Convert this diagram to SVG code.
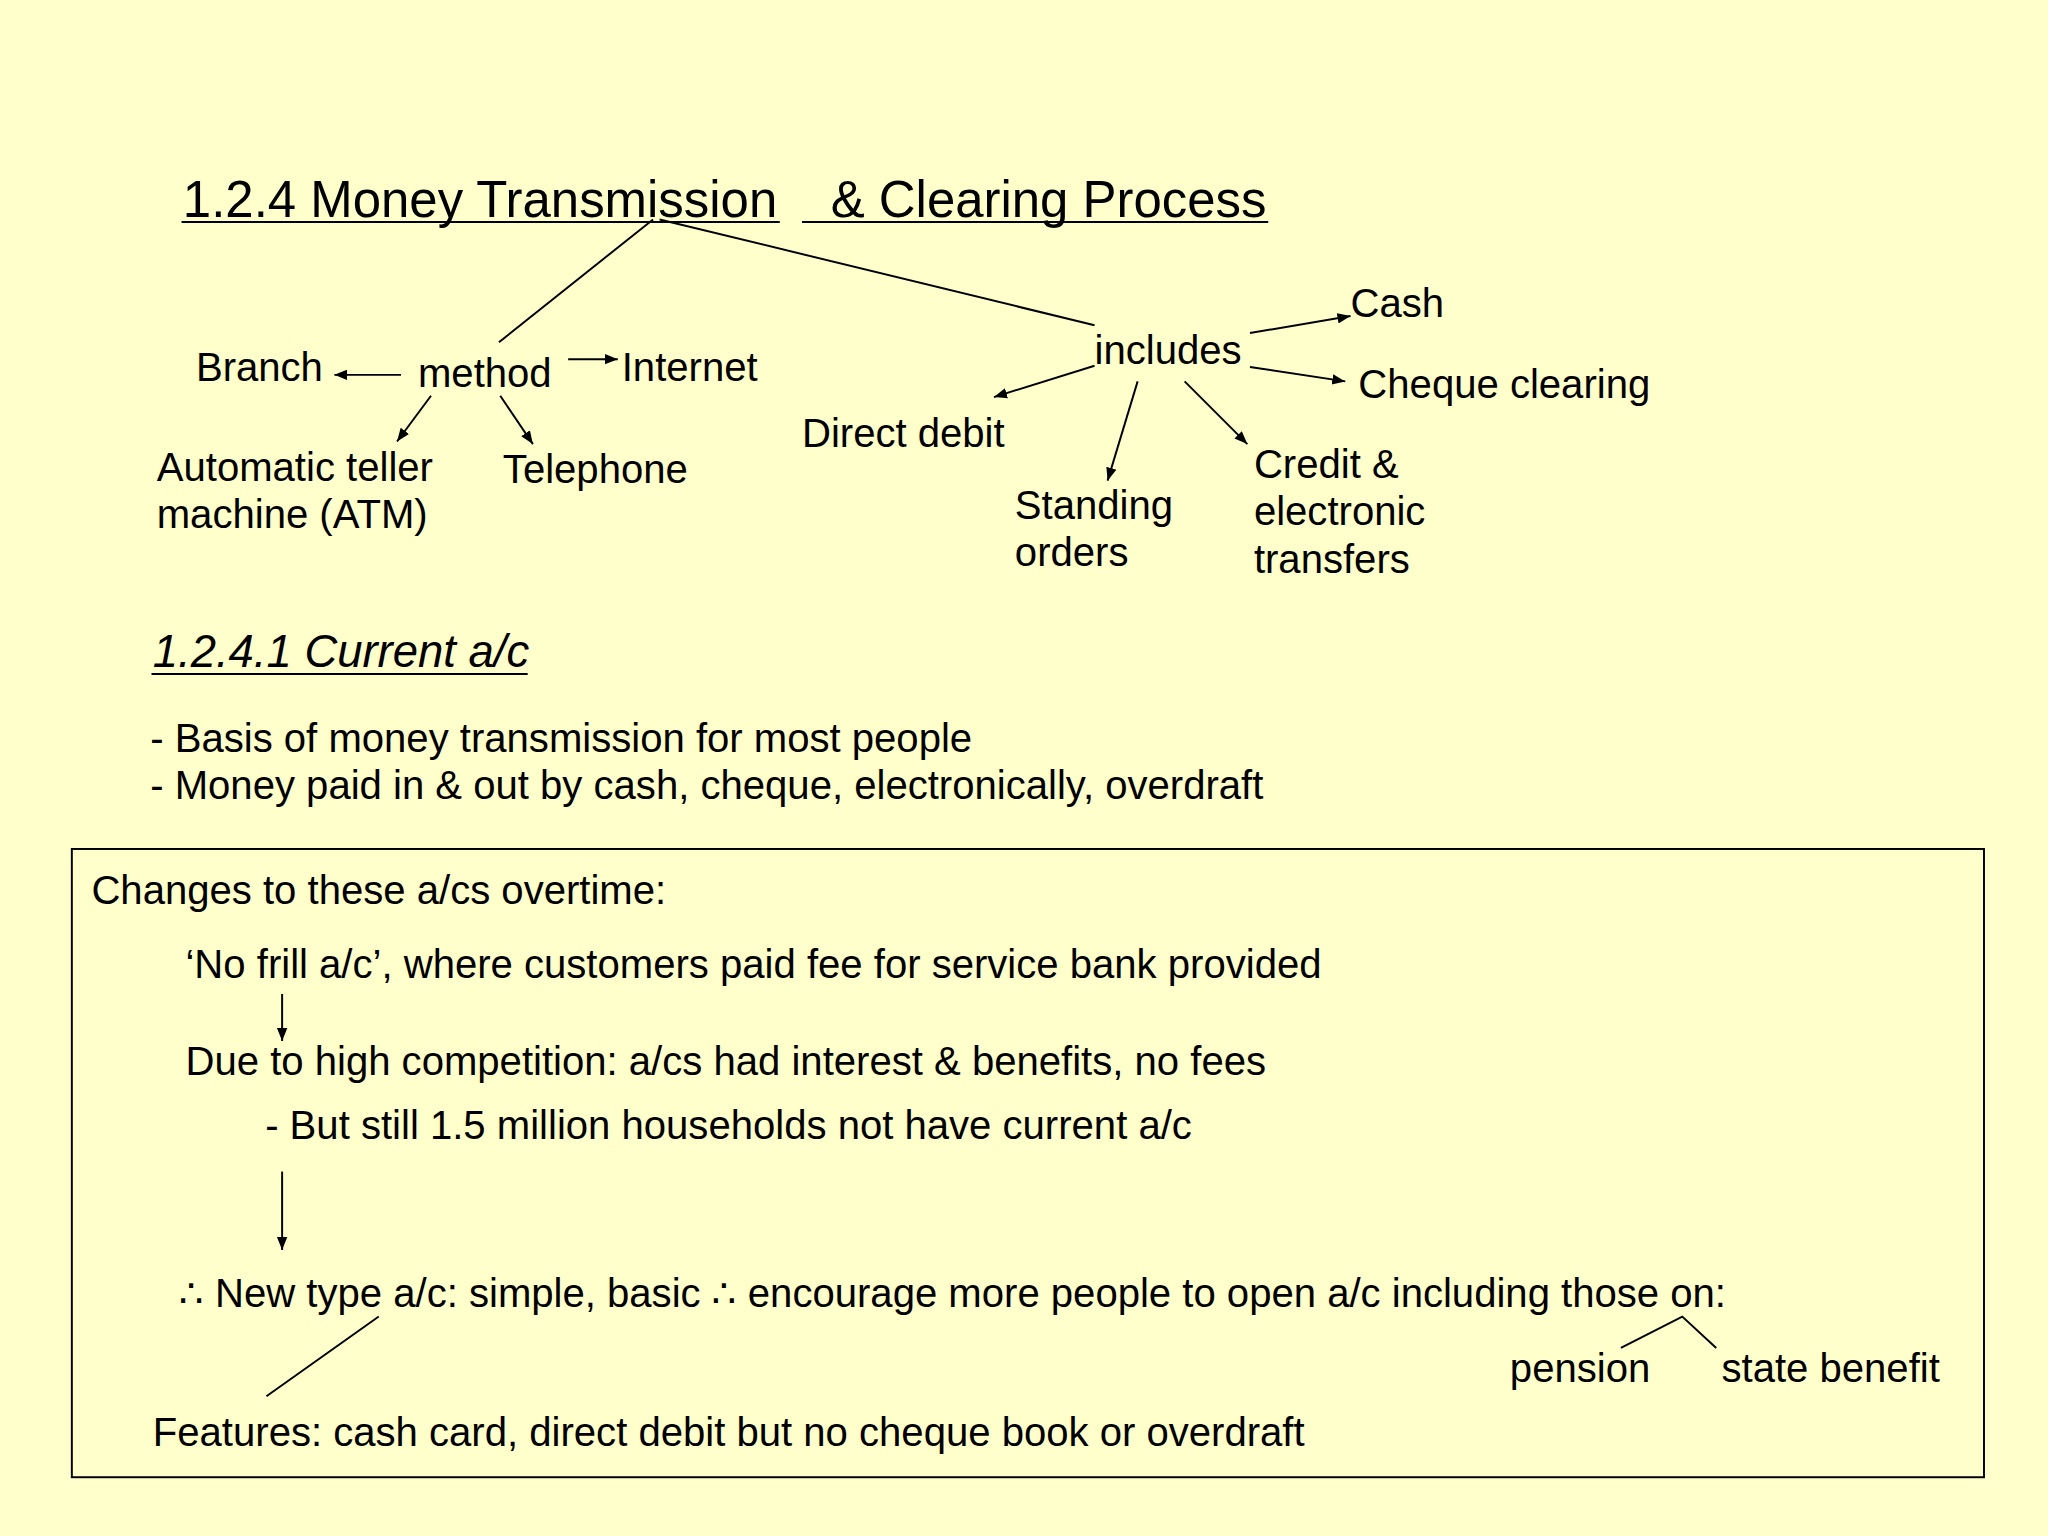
<svg xmlns="http://www.w3.org/2000/svg" width="2048" height="1536" viewBox="0 0 2048 1536">
<defs>
<marker id="ah" viewBox="0 0 10 10" refX="10" refY="5" markerWidth="10" markerHeight="10" markerUnits="userSpaceOnUse" orient="auto"><path d="M0,1 L10,5 L0,9 z" fill="#000"/></marker>
</defs>
<style>
text{font-family:"Liberation Sans",Arial,sans-serif;font-size:30.7px;fill:#000}
.t{font-size:39px}
.h{font-size:34.8px;font-style:italic}
line,polyline{stroke:#000;stroke-width:1.5;fill:none}
.a{marker-end:url(#ah)}
</style>
<rect width="2048" height="1536" fill="#FFFFCC"/>
<g transform="scale(1.30612)">
<g id="title"><text class="t" x="140" y="166">1.2.4 Money Transmission</text><text class="t" x="636" y="166">&amp; Clearing Process</text>
<line x1="139" y1="170" x2="597" y2="170"/><line x1="614" y1="170" x2="971" y2="170"/></g>
<g id="method"><text x="320" y="296">method</text></g>
<g id="branch"><text x="150" y="292">Branch</text></g>
<g id="internet"><text x="476" y="292">Internet</text></g>
<g id="atm"><text x="120" y="368">Automatic teller</text><text x="120" y="404">machine (ATM)</text></g>
<g id="telephone"><text x="385" y="370">Telephone</text></g>
<g id="includes"><text x="838" y="279">includes</text></g>
<g id="cash"><text x="1034" y="243">Cash</text></g>
<g id="cheque"><text x="1040" y="305">Cheque clearing</text></g>
<g id="dd"><text x="614" y="342">Direct debit</text></g>
<g id="so"><text x="777" y="397">Standing</text><text x="777" y="433">orders</text></g>
<g id="credit"><text x="960" y="366">Credit &amp;</text><text x="960" y="402">electronic</text><text x="960" y="439">transfers</text></g>
<g id="current"><text class="h" x="117" y="511">1.2.4.1 Current a/c</text><line x1="116" y1="516" x2="404" y2="516"/></g>
<g id="bullets"><text x="115" y="576">- Basis of money transmission for most people</text><text x="115" y="612">- Money paid in &amp; out by cash, cheque, electronically, overdraft</text></g>
<g id="box"><rect x="55" y="650" width="1464" height="481" fill="none" stroke="#000" stroke-width="1.5"/>
<text x="70" y="692">Changes to these a/cs overtime:</text>
<text x="142" y="749">‘No frill a/c’, where customers paid fee for service bank provided</text>
<text x="142" y="823">Due to high competition: a/cs had interest &amp; benefits, no fees</text>
<text x="203" y="872">- But still 1.5 million households not have current a/c</text>
<text x="137" y="1001"><tspan font-family="DejaVu Sans" font-size="30">∴</tspan> New type a/c: simple, basic <tspan font-family="DejaVu Sans" font-size="30">∴</tspan> encourage more people to open a/c including those on:</text>
<text x="1156" y="1058">pension</text><text x="1318" y="1058">state benefit</text>
<text x="117" y="1107">Features: cash card, direct debit but no cheque book or overdraft</text></g>
<g id="connectors">
<line x1="500" y1="168" x2="382" y2="262"/><line x1="505" y1="168" x2="838" y2="249"/>
<line class="a" x1="307" y1="287" x2="256" y2="287"/><line class="a" x1="435" y1="275" x2="473" y2="275"/>
<line class="a" x1="330" y1="303" x2="304" y2="338"/><line class="a" x1="383" y1="303" x2="408" y2="340"/>
<line class="a" x1="957" y1="255" x2="1034" y2="242"/><line class="a" x1="957" y1="281" x2="1030" y2="292"/>
<line class="a" x1="838" y1="280" x2="761" y2="304"/><line class="a" x1="871" y1="292" x2="848" y2="368"/>
<line class="a" x1="907" y1="292" x2="955" y2="340"/>
<line class="a" x1="216" y1="761" x2="216" y2="797"/><line class="a" x1="216" y1="897" x2="216" y2="957"/>
<line x1="290" y1="1008" x2="204" y2="1069"/>
<polyline points="1241,1032 1288,1008 1314,1032"/>
</g>
</g>
</svg>
